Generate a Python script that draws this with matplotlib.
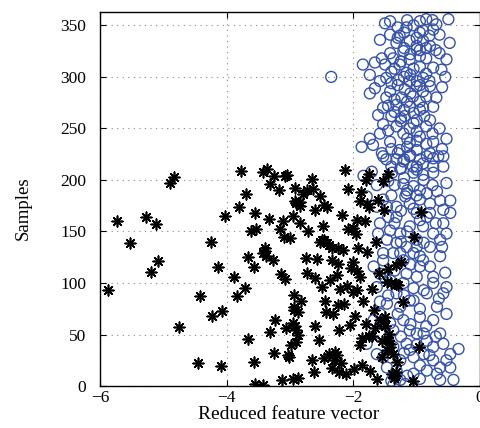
import matplotlib
matplotlib.use('Agg')
import matplotlib.pyplot as plt

# class 1: reduced feature value and sample index (asterisks)
star_x = [-5.88, -5.74, -5.53, -5.28, -5.12, -5.08, -5.20, -4.90, -4.84, -4.75,
          -4.45, -4.42, -4.25, -4.24, -4.14, -4.09, -4.07, -4.02, -3.88, -3.83,
          -3.80, -3.77, -3.71, -3.69, -3.67, -3.67, -3.57, -3.62, -3.55, -3.53,
          -3.57, -3.55, -3.42, -3.42, -3.39, -3.42, -3.37, -3.27, -3.31, -3.33,
          -3.31, -3.26, -3.24, -3.25, -3.17, -3.16, -3.14, -3.12, -3.11, -3.09,
          -3.08, -3.08, -3.07, -3.03, -3.01, -3.00, -2.98, -2.96, -2.96, -2.95,
          -2.94, -2.94, -2.92, -2.92, -2.91, -2.90, -2.88, -2.87, -2.84, -2.82,
          -2.84, -2.79, -2.75, -2.74, -2.71, -2.66, -2.66, -2.63, -2.60, -2.62,
          -2.60, -2.58, -2.54, -2.52, -2.50, -2.48, -2.52, -2.47, -2.47, -2.47,
          -2.45, -2.43, -2.41, -2.39, -2.38, -2.37, -2.34, -2.34, -2.33, -2.32,
          -2.29, -2.26, -2.26, -2.25, -2.25, -2.22, -2.22, -2.21, -2.18, -2.17,
          -2.15, -2.13, -2.11, -2.08, -2.08, -2.05, -2.03, -2.01, -2.00, -1.99,
          -1.97, -1.96, -1.95, -1.94, -1.92, -1.89, -1.88, -1.87, -1.87, -1.85,
          -1.82, -1.80, -1.79, -1.79, -1.76, -1.76, -1.74, -1.71, -1.68, -1.66,
          -1.63, -1.61, -1.58, -1.55, -1.53, -1.52, -1.50, -1.47, -1.47, -1.45,
          -1.45, -1.43, -1.42, -1.39, -1.37, -1.34, -1.33, -1.32, -1.31, -1.21,
          -1.06, -1.05, -0.97, -0.94,
          -2.90, -2.85, -2.50, -2.42, -3.05, -3.38, -3.40, -2.92, -2.88, -2.93,
          -2.10, -1.95, -1.52, -1.50, -1.45, -1.42, -1.55, -1.36, -1.33, -1.70,
          -1.80, -1.30, -1.40, -1.25, -1.60, -1.90, -1.75, -1.65, -2.30, -2.20,
          -2.60, -2.73, -1.90, -2.00, -2.25]
star_y = [93, 160, 139, 164, 157, 121, 111, 197, 203, 57,
          22, 87, 140, 68, 116, 19, 73, 165, 106, 87,
          174, 209, 95, 186, 46, 125, 23, 150, 168, 152,
          116, 2, 1, 129, 134, 208, 211, 122, 196, 162,
          52, 32, 64, 204, 190, 152, 109, 6, 160, 145,
          204, 104, 56, 30, 28, 144, 40, 165, 61, 7,
          77, 88, 180, 192, 54, 43, 8, 72, 158, 83,
          179, 186, 124, 190, 150, 201, 25, 191, 58, 14,
          171, 123, 45, 184, 96, 155, 140, 142, 27, 176,
          83, 72, 174, 137, 31, 103, 18, 134, 122, 70,
          33, 30, 108, 134, 79, 54, 14, 94, 166, 132,
          80, 210, 12, 191, 152, 59, 115, 91, 153, 17,
          68, 148, 161, 112, 134, 106, 188, 20, 47, 83,
          160, 200, 130, 177, 206, 49, 15, 94, 74, 56,
          7, 181, 64, 44, 199, 171, 67, 35, 101, 114,
          206, 51, 41, 12, 31, 10, 117, 99, 23, 82,
          5, 145, 38, 169,
          178, 175, 142, 139, 205, 126, 131, 58, 50, 74,
          97, 93, 63, 58, 45, 38, 28, 8, 14, 49,
          60, 98, 100, 120, 110, 180, 174, 140, 25, 22,
          105, 110, 40, 120, 118]

# class 2: reduced feature value and sample index (circles)
circle_x = [-1.50, -1.42, -1.16, -0.95, -0.85, -0.69, -0.50, -0.74, -0.64, -0.95,
            -1.27, -1.42, -1.58, -1.32, -1.11, -0.90, -0.79, -0.48, -1.00, -1.21,
            -1.42, -0.64, -1.37, -0.85, -1.11, -0.53, -1.85, -1.66, -1.50, -1.27,
            -0.95, -0.74, -0.61, -1.40, -1.16, -1.48, -1.74, -1.58, -1.29, -1.11,
            -0.90, -1.00, -0.79, -1.19, -1.66, -1.42, -1.74, -1.48, -1.24, -1.06,
            -0.85, -0.69, -1.32, -1.53, -1.11, -0.95, -0.74, -1.61, -1.40, -1.19,
            -1.00, -0.79, -1.53, -1.32, -1.11, -0.85, -0.64, -1.58, -1.21, -0.95,
            -1.74, -1.42, -1.11, -0.74, -0.53, -1.87, -1.69, -1.27, -1.00, -0.79,
            -1.48, -1.21, -0.95, -0.66, -1.40, -1.06, -0.74, -2.35,
            -1.05, -0.90, -1.20, -1.00, -0.85, -1.10, -0.95, -1.25, -1.05, -0.85,
            -1.20, -1.00, -1.30, -0.90, -1.10, -1.35, -0.95, -1.20, -1.05, -0.88,
            -1.25, -1.45, -1.00, -1.15, -0.85, -1.30, -1.10, -0.90, -1.25, -1.55,
            -0.60, -1.35, -0.80, -1.55, -0.70, -1.30, -0.80,
            -1.84, -1.71, -1.63, -1.45, -1.39, -1.26, -1.00, -0.74, -0.58, -0.53,
            -0.68, -0.84, -1.05, -1.18, -1.32, -1.45, -1.58, -1.61, -1.47, -1.26,
            -1.11, -0.95, -0.79, -0.47, -0.58, -0.74, -0.89, -1.05, -1.21, -1.37,
            -1.53, -1.58, -1.42, -1.21, -1.00, -0.79, -0.63, -0.74, -0.58, -0.84,
            -1.05, -1.26, -1.47, -1.58, -1.42, -1.21, -0.95, -0.74, -0.53, -0.63,
            -0.84, -1.00, -1.16, -1.37, -1.53, -1.26, -1.05, -0.74, -0.58, -0.34,
            -0.63, -0.47, -0.42, -0.63, -0.84, -1.05, -1.26, -1.37, -1.18, -0.95,
            -1.79, -1.63, -1.58, -1.37, -1.11, -0.89, -1.11, -0.89, -1.32, -1.16,
            -0.95, -0.79, -0.63, -0.53, -0.47, -0.63, -0.79, -0.95, -1.11, -1.32,
            -1.00, -1.16, -1.32, -1.42, -1.47, -1.63, -1.21, -0.89, -0.74, -1.05,
            -1.53, -1.79, -1.53, -1.68, -1.63, -1.68, -1.58, -1.47, -1.32, -1.11,
            -0.89, -0.74, -0.53, -0.68, -0.47, -0.68, -0.53, -0.74, -0.95, -1.26,
            -1.00, -0.84, -0.58, -1.16, -0.95, -0.58, -0.84, -1.11, -1.32, -1.53,
            -1.35, -1.15, -1.00, -1.25, -1.05, -0.90, -1.15, -1.35, -1.00, -1.25,
            -1.10, -0.90, -1.35, -1.05, -1.20, -0.95, -1.30, -1.10, -0.85, -1.25,
            -1.00, -1.20, -0.95, -1.15, -1.40, -0.80, -0.70, -0.65, -0.55, -0.60,
            -0.70, -0.75, -1.45, -1.55, -1.50, -1.40, -1.20, -0.90,
            -1.15, -0.75, -1.30, -1.00, -1.20, -0.95, -1.35, -1.10, -0.95, -1.40,
            -1.15, -0.90, -1.45, -1.25, -1.05, -1.15, -1.00, -1.40, -1.20, -1.00,
            -0.75, -0.55, -0.60]
circle_y = [352, 354, 348, 354, 356, 351, 356, 346, 341, 343,
            340, 341, 336, 333, 335, 335, 330, 333, 327, 325,
            323, 323, 318, 318, 317, 317, 312, 314, 312, 312,
            310, 309, 307, 305, 304, 299, 302, 296, 297, 296,
            299, 291, 291, 288, 289, 286, 284, 280, 280, 281,
            281, 280, 273, 270, 271, 268, 271, 263, 262, 262,
            258, 258, 254, 252, 250, 252, 250, 245, 245, 242,
            240, 237, 236, 237, 240, 232, 234, 229, 229, 226,
            220, 218, 220, 223, 213, 213, 213, 300,
            350, 345, 343, 338, 328, 322, 320, 315, 308, 303,
            300, 296, 292, 286, 284, 278, 276, 268, 265, 262,
            257, 248, 247, 240, 235, 226, 224, 216, 211, 226,
            230, 266, 296, 318, 326, 348, 340,
            204, 208, 195, 199, 207, 211, 213, 221, 223, 197,
            189, 187, 194, 184, 174, 164, 158, 148, 142, 148,
            155, 161, 168, 168, 158, 148, 139, 129, 122, 129,
            122, 109, 103, 100, 106, 116, 126, 100, 90, 90,
            83, 77, 80, 70, 61, 64, 67, 64, 70, 51,
            44, 51, 41, 38, 28, 25, 28, 38, 41, 36,
            18, 18, 6, 6, 15, 12, 6, 1, 2, 7,
            41, 31, 82, 54, 54, 51, 83, 93, 90, 109,
            116, 135, 142, 148, 180, 180, 177, 181, 177, 164,
            142, 135, 139, 151, 174, 174, 196, 200, 207, 207,
            181, 184, 129, 116, 96, 64, 51, 18, 15, 35,
            31, 25, 25, 12, 31, 77, 96, 106, 126, 129,
            168, 164, 171, 187, 190, 213, 223, 223, 220, 223,
            195, 190, 185, 170, 172, 155, 150, 158, 135, 140,
            118, 122, 112, 95, 88, 75, 70, 60, 58, 48,
            40, 32, 20, 10, 5, 30, 48, 85, 110, 135,
            158, 195, 88, 62, 105, 185, 202, 205,
            355, 355, 338, 330, 328, 326, 308, 302, 292, 294,
            276, 270, 272, 260, 255, 232, 238, 230, 220, 210,
            245, 300, 290]


def make_plot():
    fig = plt.figure(figsize=(4.81, 4.28), dpi=100)
    ax = fig.add_axes([0.208, 0.098, 0.790, 0.874])

    ax.scatter(star_x, star_y, marker=(8, 2, 0), s=58, c='black',
               linewidths=1.2, zorder=3)
    ax.scatter(circle_x, circle_y, marker='o', s=62, facecolors='none',
               edgecolors='#3552a8', linewidths=1.0, zorder=2)

    ax.set_xlim(-6, 0)
    ax.set_ylim(0, 363)
    ax.set_xticks([-6, -4, -2, 0])
    ax.set_yticks(range(0, 351, 50))
    ax.tick_params(direction='in', length=4, top=True, right=True,
                   labelsize=12.5)
    ax.tick_params(axis='y', pad=10)
    ax.tick_params(axis='x', pad=3)
    for lbl in ax.get_xticklabels() + ax.get_yticklabels():
        lbl.set_family('Liberation Serif')
    ax.grid(True, linestyle=(0, (1, 4)), color='#888888', linewidth=0.8)
    ax.set_axisbelow(True)
    for sp in ax.spines.values():
        sp.set_linewidth(1.0)

    ax.set_xlabel('Reduced feature vector', family='Liberation Serif',
                  fontsize=14)
    ax.xaxis.set_label_coords(0.495, -0.052)
    ax.set_ylabel('Samples', family='Liberation Serif', fontsize=13.5)
    ax.yaxis.set_label_coords(-0.18, 0.476)

    fig.savefig('out.png', dpi=100)


if __name__ == '__main__':
    make_plot()
